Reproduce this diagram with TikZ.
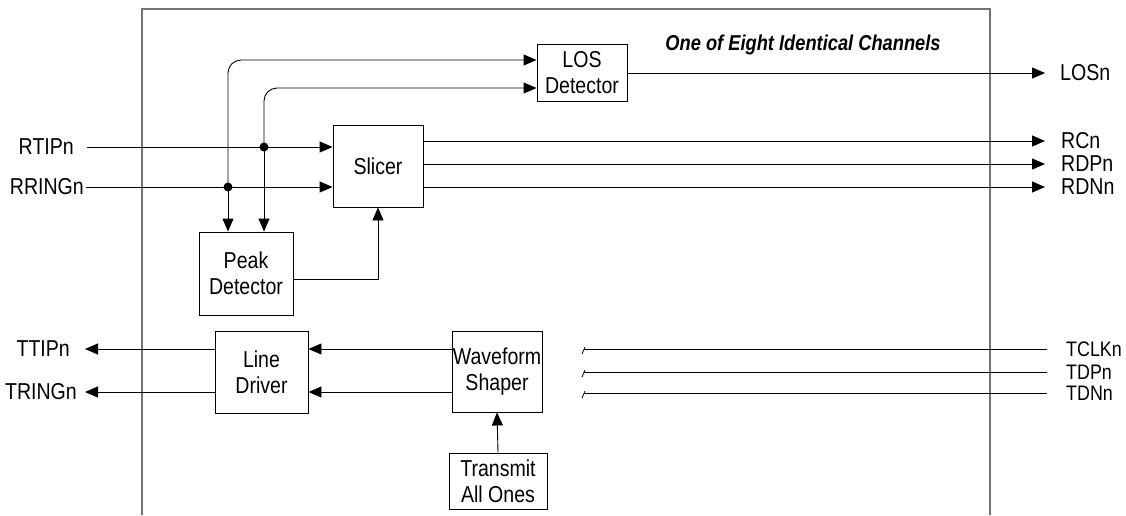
\documentclass[tikz,border=0pt]{standalone}
\usepackage{fontspec}
\setmainfont{Liberation Sans}[FakeStretch=0.85]
\usetikzlibrary{arrows.meta}
\begin{document}
\begin{tikzpicture}[x=1pt,y=-1pt,
  blk/.style={draw,line width=0.9pt,inner sep=0pt,align=center,font=\fontsize{23}{26}\selectfont},
  lbl/.style={inner sep=0pt,font=\fontsize{23}{26}\selectfont},
  slbl/.style={inner sep=0pt,font=\fontsize{21}{24}\selectfont},
  sig/.style={line width=0.9pt,-{Triangle[length=13pt,width=11pt]}},
  wire/.style={line width=0.9pt},
  junc/.style={circle,fill,inner sep=0pt,minimum size=9pt}]
\useasboundingbox (0,0) rectangle (1126,515);
% frame
\draw[line width=1.3pt,draw=black!55] (142,515) -- (142,9) -- (990,9) -- (990,515);
\node[inner sep=0pt,font=\fontsize{21.5}{24}\selectfont\bfseries\itshape] (title) at (803,45) {One of Eight Identical Channels};
% blocks
\node[blk,minimum width=90pt,minimum height=57pt] (los) at (582,72.5) {LOS\\Detector};
\node[blk,minimum width=90pt,minimum height=82pt] (slicer) at (378,166) {Slicer};
\node[blk,minimum width=94pt,minimum height=83pt] (peak) at (246,273.5) {Peak\\Detector};
\node[blk,minimum width=93pt,minimum height=82pt] (driver) at (261.5,372) {Line\\Driver};
\node[blk,minimum width=90pt,minimum height=81pt] (shaper) at (497,371.5) {Waveform\\Shaper};
\node[blk,minimum width=98pt,minimum height=56pt] (tao) at (498,481) {Transmit\\All Ones};
% left labels
\node[lbl,anchor=east] (rtip) at (74,147) {RTIPn};
\node[lbl,anchor=east] (rring) at (84,187) {RRINGn};
\node[lbl,anchor=east] (ttip) at (70,349) {TTIPn};
\node[lbl,anchor=east] (tring) at (77,392) {TRINGn};
% right labels
\node[lbl,anchor=west] (losn) at (1060,73) {LOSn};
\node[lbl,anchor=west] (rcn) at (1061,141) {RCn};
\node[lbl,anchor=west] (rdpn) at (1061,164) {RDPn};
\node[lbl,anchor=west] (rdnn) at (1061,187) {RDNn};
\node[slbl,anchor=west] (tclk) at (1066,349) {TCLKn};
\node[slbl,anchor=west] (tdp) at (1066,372) {TDPn};
\node[slbl,anchor=west] (tdn) at (1066,393) {TDNn};
% junctions
\node[junc] (j1) at (264,147) {};
\node[junc] (j2) at (228,187) {};
% receive inputs
\draw[sig] (rtip.east |- 0,147) ++(13,0) -- (slicer.west |- 0,147);
\draw[sig] (rring.east |- 0,187) ++(2,0) -- (slicer.west |- 0,187);
% to LOS detector
\draw[sig,rounded corners=13pt] (j2.center) -- (228,60) -- (los.west |- 0,60);
\draw[sig,rounded corners=13pt] (j1.center) -- (264,88) -- (los.west |- 0,88);
% to peak detector
\draw[sig] (j2.center) -- (peak.north -| j2);
\draw[sig] (j1.center) -- (peak.north -| j1);
% outputs
\draw[sig] (los.east |- 0,73) -- (1045,73);
\draw[sig] (slicer.east |- 0,141) -- (1045,141);
\draw[sig] (slicer.east |- 0,164) -- (1045,164);
\draw[sig] (slicer.east |- 0,187) -- (1045,187);
% peak -> slicer
\draw[sig] (peak.east |- 0,279) -| (slicer.south);
% transmit
\draw[sig] (shaper.west |- 0,349) -- (driver.east |- 0,349);
\draw[sig] (shaper.west |- 0,392) -- (driver.east |- 0,392);
\draw[sig] (driver.west |- 0,349) -- (85,349);
\draw[sig] (driver.west |- 0,392) -- (85,392);
\draw[sig] (tao.north) -- (shaper.south);
% transmit inputs
\foreach \yy in {349,372,393}{
  \draw[wire] (1047,\yy) -- (584,\yy);
  \draw[line width=0.8pt] (582,\yy+5) -- (585,\yy-2);
}
\end{tikzpicture}
\end{document}
